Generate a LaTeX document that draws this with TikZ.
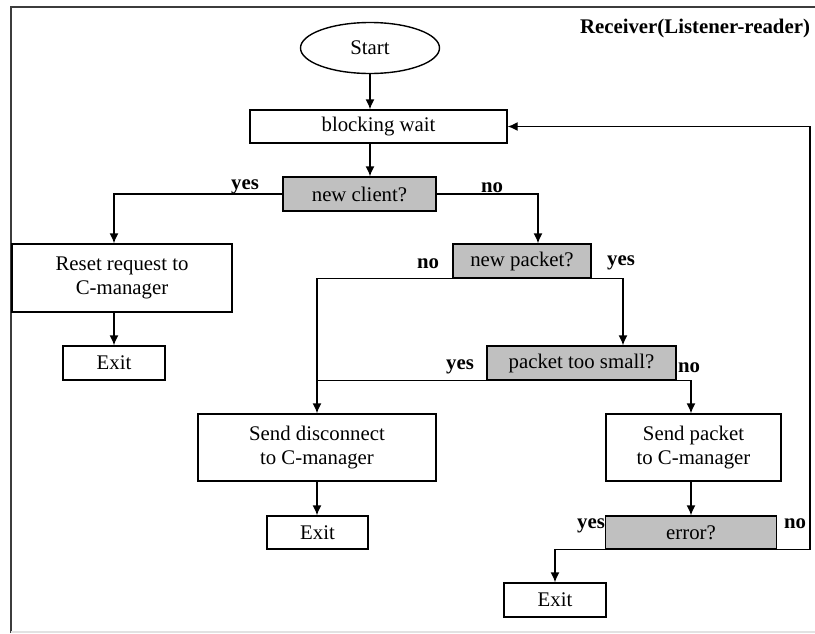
\documentclass[tikz,border=0pt]{standalone}
\usepackage{fontspec}
\setmainfont{Liberation Serif}
\usetikzlibrary{arrows.meta}
\usetikzlibrary{shapes.geometric}
\definecolor{color_fc_query}{HTML}{C0C0C0}
\definecolor{color_fc_line}{HTML}{000000}
\definecolor{color_fc_frame}{HTML}{3C3C3C}
\definecolor{color_fc_frame_bottom}{HTML}{E2E2E2}
\def\fclinewidth{0.7pt}
\def\fctextsize{\fontsize{10.4}{12.4}\selectfont}
\tikzset{
    fcbox/.style={draw=color_fc_line, line width=\fclinewidth, fill=white, inner sep=0pt, align=center, font=\fctextsize},
    fcquery/.style={fcbox, fill=color_fc_query},
    fcstart/.style={fcbox, ellipse},
    fcarrow/.style={draw=color_fc_line, line width=\fclinewidth, -{Latex[length=5pt,width=4.5pt]}},
    fcline/.style={draw=color_fc_line, line width=\fclinewidth},
    fclabel/.style={inner sep=0pt, font=\fctextsize\bfseries}
}

\begin{document}
\begin{tikzpicture}[x=0.5pt,y=-0.5pt]
        \useasboundingbox (0,0) rectangle (815,633);
        % frame
        \draw[color_fc_frame, line width=0.8pt] (11,633) -- (11,7) -- (815,7);
        \draw[color_fc_frame_bottom, line width=0.8pt] (11,632) -- (815,632);
        \node[fclabel] (title) at (695,28) {Receiver(Listener-reader)};
        % steps
        \node[fcstart, minimum width=69.5pt, minimum height=25.5pt] (start) at (370,48) {Start};
        \node[fcbox, minimum width=128.5pt, minimum height=16.5pt] (wait) at (378.5,126.5) {blocking wait};
        \node[fcquery, minimum width=76.5pt, minimum height=17pt] (client) at (359.5,194) {new client?};
        \node[fcbox, minimum width=110pt, minimum height=34pt] (reset) at (122,278) {Reset request to\\C-manager};
        \node[fcbox, minimum width=51pt, minimum height=17pt] (exit1) at (114,363) {Exit};
        \node[fcquery, minimum width=69pt, minimum height=17pt] (npacket) at (522,261) {new packet?};
        \node[fcquery, minimum width=94.5pt, minimum height=17pt] (small) at (581.5,363) {packet too small?};
        \node[fcbox, minimum width=119pt, minimum height=33.5pt] (disc) at (317,447.5) {Send disconnect\\to C-manager};
        \node[fcbox, minimum width=50.5pt, minimum height=16.5pt] (exit2) at (317.5,532.5) {Exit};
        \node[fcbox, minimum width=87.5pt, minimum height=33.5pt] (spacket) at (693.5,447.5) {Send packet\\to C-manager};
        \node[fcquery, minimum width=85.5pt, minimum height=16.5pt] (error) at (691,532.5) {error?};
        \node[fcbox, minimum width=51pt, minimum height=17pt] (exit3) at (555,600) {Exit};
        % connectors
        \draw[fcarrow] (start) -- (start |- wait.north);
        \draw[fcarrow] (wait.south -| start) -- (client.north -| start);
        \draw[fcarrow] (client.west) -| (exit1 |- reset.north);
        \draw[fcarrow] (client.east) -| ([xshift=8pt]npacket.north);
        \draw[fcarrow] (reset.south -| exit1) -- (exit1.north);
        \draw[fcarrow] (npacket.south west) -| (disc.north);
        \draw[fcarrow] (npacket.south east) -| ([xshift=20.75pt]small.north);
        \draw[fcline] (small.south west) -- (small.south west -| disc);
        \draw[fcarrow] (small.south east) -| (error |- spacket.north);
        \draw[fcarrow] (disc.south) -- (disc.south |- exit2.north);
        \draw[fcarrow] (error |- spacket.south) -- (error.north);
        \draw[fcarrow] (error.south west) -| (exit3.north);
        \coordinate (loop) at (810,126.5);
        \draw[fcarrow] (error.south east) -| (loop) -- (wait.east);
        % yes / no labels
        \node[fclabel] (clientyes) at (245,187) {yes};
        \node[fclabel] (clientno) at (492,188) {no};
        \node[fclabel] (npacketno) at (428,264) {no};
        \node[fclabel] (npacketyes) at (621,263) {yes};
        \node[fclabel] (smallyes) at (460,367) {yes};
        \node[fclabel] (smallno) at (689,368) {no};
        \node[fclabel] (erroryes) at (591,526) {yes};
        \node[fclabel] (errorno) at (795,524) {no};
    \end{tikzpicture}
\end{document}
